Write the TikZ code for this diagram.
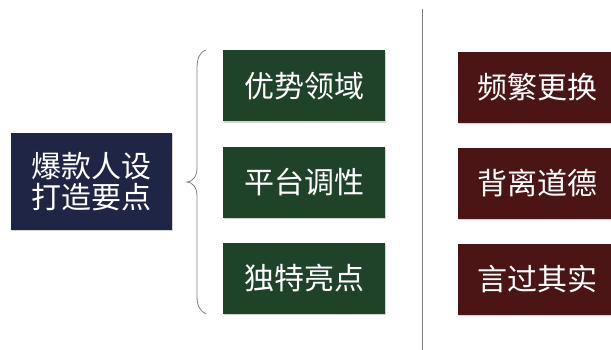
\documentclass[tikz,border=0pt]{standalone}
\usepackage{fontspec}
\setmainfont{Noto Sans CJK SC}
\usepackage{xcolor}
\usepackage{tikz}
\usetikzlibrary{calc,shadows}
\definecolor{navy}{HTML}{1F2645}
\definecolor{leaf}{HTML}{1F4329}
\definecolor{wine}{HTML}{4B1515}
\definecolor{rule}{HTML}{7F7F7F}
\tikzset{
  card/.style={draw=none, text=white, inner sep=0pt, minimum height=71pt,
    font=\fontsize{30}{31}\selectfont,
    drop shadow={shadow xshift=1pt, shadow yshift=-1.5pt, opacity=0.35}},
  good/.style={card, fill=leaf, minimum width=162pt},
  bad/.style={card, fill=wine, minimum width=158pt},
  topic/.style={card, fill=navy, minimum width=161pt, minimum height=97pt, align=center},
  brace/.style={draw=rule, line width=0.8pt},
  sep/.style={draw=rule, line width=1pt}
}

\begin{document}
\begin{tikzpicture}[x=1pt,y=-1pt]
  \useasboundingbox (0,0) rectangle (611,350);

  \node[topic] (key) at (91.5,181.5) {爆款人设\\打造要点};

  \node[good] (g1) at (304,86) {优势领域};
  \node[good] (g2) at (304,182.5) {平台调性};
  \node[good] (g3) at (304,278) {独特亮点};

  \node[bad] (b1) at (537,87.5) {频繁更换};
  \node[bad] (b2) at (537,183.5) {背离道德};
  \node[bad] (b3) at (537,279) {言过其实};

  % curly brace between key and the green cards
  \draw[brace] (206,50) .. controls (199,53) and (197,58) .. (197,70) -- (197,168)
    .. controls (197,177) and (192,182) .. (187,182)
    .. controls (192,182) and (197,187) .. (197,196) -- (197,296)
    .. controls (197,306) and (200,311) .. (206,314);

  \draw[sep] (422,9) -- (422,350);
\end{tikzpicture}
\end{document}
